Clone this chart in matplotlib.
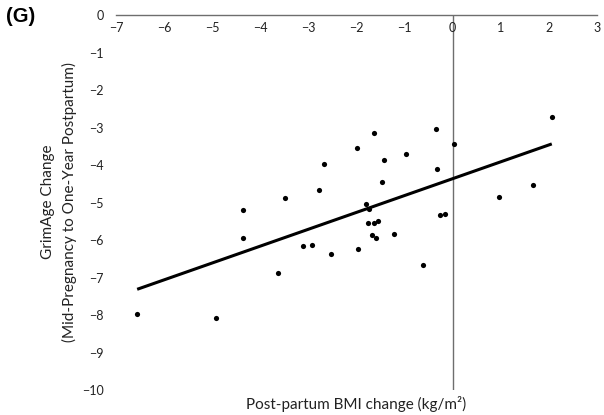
import numpy as np
import matplotlib
matplotlib.use("Agg")
import matplotlib.pyplot as plt

bmi_change = [2.06, -0.35, -1.63, 0.03, -2.00, -0.98, -1.43, -2.67, -0.33, -1.47,
              1.67, 0.96, -3.48, -2.77, -1.81, -1.74, -0.26, -0.15, -1.77, -1.63,
              -1.55, -1.21, -1.68, -1.59, -3.12, -2.93, -2.52, -1.96, -0.62, -3.63,
              -4.37, -4.37, -6.56, -4.92]
grimage_change = [-2.72, -3.03, -3.16, -3.45, -3.54, -3.72, -3.86, -3.97, -4.11, -4.45,
                  -4.54, -4.86, -4.88, -4.68, -5.05, -5.18, -5.32, -5.31, -5.56, -5.56,
                  -5.49, -5.83, -5.86, -5.96, -6.17, -6.12, -6.36, -6.24, -6.67, -6.89,
                  -5.19, -5.94, -7.97, -8.08]
x_ticks = [-7, -6, -5, -4, -3, -2, -1, 0, 1, 2, 3]
y_ticks = [0, -1, -2, -3, -4, -5, -6, -7, -8, -9, -10]

plt.rcParams['font.family'] = ['Lato', 'DejaVu Sans']

fig = plt.figure(figsize=(6.04, 4.15), dpi=100)
ax = fig.add_axes([116/604, 1-390/415, (597-116)/604, (390-15)/415])

x = np.array(bmi_change)
y = np.array(grimage_change)
ax.scatter(x, y, s=14, color='black', zorder=3, linewidths=0)

slope, intercept = np.polyfit(x, y, 1)
xl = np.array([x.min(), x.max()])
ax.plot(xl, slope*xl + intercept, color='black', lw=2.2, zorder=2, solid_capstyle='butt')

ax.set_xlim(-7, 3)
ax.set_ylim(-10, 0)
ax.set_xticks(x_ticks)
ax.set_yticks(y_ticks)
ax.set_xticklabels([f"{v}".replace('-', '\u2212') for v in x_ticks])
ax.set_yticklabels([f"{v}".replace('-', '\u2212') for v in y_ticks])

for s in ['top', 'right', 'left']:
    ax.spines[s].set_visible(False)
ax.spines['bottom'].set_position(('data', 0))
ax.spines['bottom'].set_color('#6e6e6e')
ax.spines['bottom'].set_linewidth(1.0)
ax.axvline(0, color='#6e6e6e', lw=1.0, zorder=1)

ax.tick_params(axis='x', length=0, pad=5, labelsize=9, colors='#222222')
ax.tick_params(axis='y', length=0, pad=9, labelsize=9, colors='#222222')

fig.text(356/604, 1-404/415, 'Post-partum BMI change (kg/m\u00b2)', ha='center', va='center',
         fontsize=11, color='#222222')
fig.text(48/604, 1-202/415, 'GrimAge Change', rotation=90, ha='center', va='center',
         fontsize=11, color='#222222')
fig.text(69/604, 1-202/415, '(Mid-Pregnancy to One-Year Postpartum)', rotation=90,
         ha='center', va='center', fontsize=11, color='#222222')
fig.text(6/604, 1-16/415, '(G)', ha='left', va='center', fontsize=14.5, fontweight='bold',
         family=['Liberation Sans', 'DejaVu Sans'], color='black')

fig.savefig('out.png', dpi=100)
